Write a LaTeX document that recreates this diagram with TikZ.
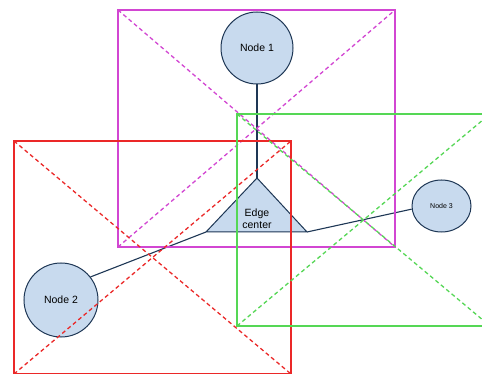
\documentclass[tikz,border=0pt]{standalone}
\usepackage{fontspec}
\setmainfont{Liberation Sans}
\usetikzlibrary{shapes.geometric}
\definecolor{nfill}{RGB}{200,218,238}
\definecolor{ndraw}{RGB}{30,55,85}
\definecolor{rred}{RGB}{235,40,40}
\definecolor{rmag}{RGB}{210,70,210}
\definecolor{rgreen}{RGB}{85,215,85}
\begin{document}
\begin{tikzpicture}[x=1pt,y=-1pt,
  nodecircle/.style={circle, draw=ndraw, fill=nfill, line width=1pt, minimum size=72pt, inner sep=0pt, font=\fontsize{10.5}{12}\selectfont},
  nodeellipse/.style={ellipse, draw=ndraw, fill=nfill, line width=1pt, minimum width=59pt, minimum height=52pt, inner sep=0pt, font=\fontsize{7}{8}\selectfont},
  tri/.style={draw=ndraw, fill=nfill, line width=1pt, line join=round},
  label/.style={align=center, inner sep=0pt, font=\fontsize{10.5}{12}\selectfont},
  conn/.style={draw=ndraw, line width=1.1pt},
  frame/.style={line width=1.1pt},
  diag/.style={line width=1.3pt, dash pattern=on 4pt off 3pt}]
\clip (0,0) rectangle (482,374);
\fill[white] (0,0) rectangle (482,374);
% nodes
\node[nodecircle] (n1) at (257,48) {Node 1};
\node[nodecircle, minimum size=74pt] (n2) at (61,300) {Node 2};
\node[nodeellipse] (n3) at (441.5,206) {Node 3};
\coordinate (apex) at (257,178);
\coordinate (bl) at (206,232);
\coordinate (br) at (307,232);
\filldraw[tri] (apex) -- (bl) -- (br) -- cycle;
\node[label] (ec) at (257,219) {Edge\\center};
% connectors
\draw[conn] (n1) -- (apex);
\draw[conn] (n2.38) -- (bl);
\draw[conn] (n3.186) -- (br);
% frames
\coordinate (m1) at (118,10); \coordinate (m2) at (395,247);
\coordinate (m3) at (118,247); \coordinate (m4) at (395,10);
\draw[frame, rmag] (m1) rectangle (m2);
\draw[diag, rmag] (m1) -- (m2) (m3) -- (m4);
\coordinate (r1) at (14,141); \coordinate (r2) at (291,374);
\coordinate (r3) at (14,374); \coordinate (r4) at (291,141);
\draw[frame, rred] (r1) rectangle (r2);
\draw[diag, rred] (r1) -- (r2) (r3) -- (r4);
\coordinate (g1) at (237,114); \coordinate (g2) at (490,326);
\coordinate (g3) at (237,326); \coordinate (g4) at (490,114);
\draw[frame, rgreen] (g1) rectangle (g2);
\draw[diag, rgreen] (g1) -- (g2) (g3) -- (g4);
\end{tikzpicture}
\end{document}
